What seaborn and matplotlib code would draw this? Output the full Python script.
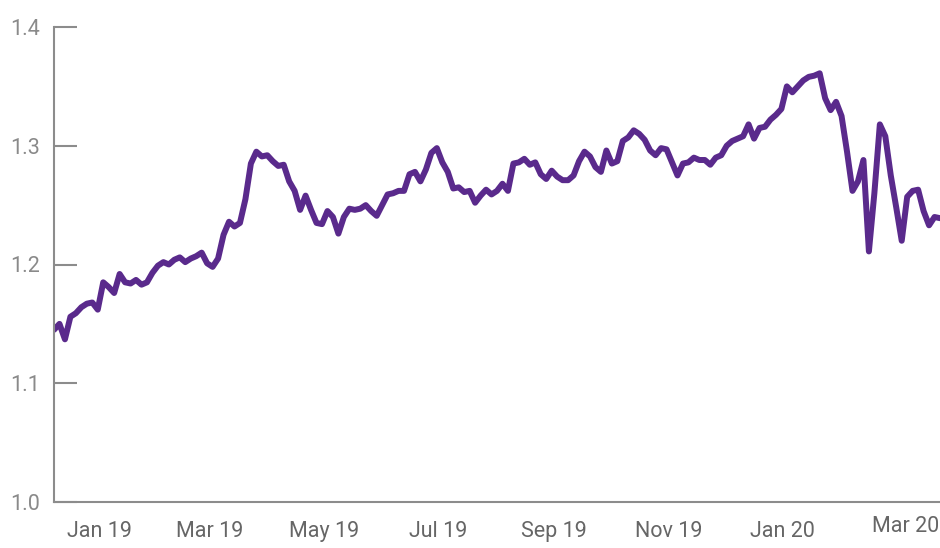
import matplotlib
matplotlib.use("Agg")
import matplotlib.pyplot as plt
from matplotlib.transforms import ScaledTranslation
import pandas as pd
import seaborn as sns

# ---- data ----
start_date = "2018-12-08"
end_date = "2020-03-25"
values = [
    1.145, 1.150, 1.137, 1.156, 1.159, 1.164, 1.167, 1.168, 1.162, 1.185,
    1.181, 1.176, 1.192, 1.185, 1.184, 1.187, 1.183, 1.185, 1.193, 1.199,
    1.202, 1.200, 1.204, 1.206, 1.202, 1.205, 1.207, 1.210, 1.201, 1.198,
    1.205, 1.225, 1.236, 1.232, 1.235, 1.255, 1.285, 1.295, 1.291, 1.292,
    1.287, 1.283, 1.284, 1.270, 1.262, 1.246, 1.258, 1.246, 1.235, 1.234,
    1.245, 1.240, 1.226, 1.240, 1.247, 1.246, 1.247, 1.250, 1.245, 1.241,
    1.250, 1.259, 1.260, 1.262, 1.262, 1.276, 1.278, 1.270, 1.280, 1.294,
    1.298, 1.286, 1.278, 1.264, 1.265, 1.261, 1.262, 1.252, 1.258, 1.263,
    1.259, 1.262, 1.268, 1.262, 1.285, 1.286, 1.289, 1.284, 1.286, 1.276,
    1.272, 1.279, 1.274, 1.271, 1.271, 1.275, 1.287, 1.295, 1.291, 1.282,
    1.278, 1.296, 1.285, 1.287, 1.304, 1.307, 1.313, 1.310, 1.305, 1.296,
    1.292, 1.298, 1.297, 1.286, 1.275, 1.285, 1.286, 1.290, 1.288, 1.288,
    1.284, 1.290, 1.292, 1.300, 1.304, 1.306, 1.308, 1.318, 1.306, 1.315,
    1.316, 1.322, 1.326, 1.331, 1.350, 1.345, 1.350, 1.355, 1.358, 1.359,
    1.361, 1.340, 1.330, 1.337, 1.325, 1.295, 1.262, 1.270, 1.288, 1.211,
    1.260, 1.318, 1.308, 1.275, 1.248, 1.220, 1.257, 1.262, 1.263, 1.245,
    1.233, 1.240, 1.239,
]
tick_dates = ["2019-01-01", "2019-03-01", "2019-05-01", "2019-07-01",
              "2019-09-01", "2019-11-01", "2020-01-01", "2020-03-01"]
tick_labels = ["Jan 19", "Mar 19", "May 19", "Jul 19",
               "Sep 19", "Nov 19", "Jan 20", "Mar 20"]
y_ticks = [1.0, 1.1, 1.2, 1.3, 1.4]
y_tick_labels = ["1.0", "1.1", "1.2", "1.3", "1.4"]

dates = pd.date_range(start_date, end_date, periods=len(values))
df = pd.DataFrame({"date": dates, "value": values})

# ---- style ----
sns.set_style("white")
plt.rcParams["font.family"] = ["Roboto", "DejaVu Sans"]

LINE = "#5a2a8c"
AXIS = "#8c8c8c"
XTEXT = "#666666"
YTEXT = "#8a8a8a"

fig = plt.figure(figsize=(9.4, 5.48), dpi=100)
ax = fig.add_axes([54 / 940, 46 / 548, 886 / 940, 475 / 548])

sns.lineplot(data=df, x="date", y="value", ax=ax, color=LINE,
             linewidth=4.3, solid_joinstyle="round", solid_capstyle="round")

ax.set_xlim(dates[0], dates[-1])
ax.set_ylim(1.0, 1.4)
ax.set_yticks(y_ticks)
ax.set_yticklabels(y_tick_labels)
ax.set_xticks(pd.to_datetime(tick_dates))
ax.set_xticklabels(tick_labels)
ax.set_xlabel("")
ax.set_ylabel("")

for s in ["top", "right"]:
    ax.spines[s].set_visible(False)
for s in ["left", "bottom"]:
    ax.spines[s].set_color(AXIS)
    ax.spines[s].set_linewidth(1.5)

ax.tick_params(axis="y", left=True, direction="in", length=16.5, width=1.5,
               color=AXIS, pad=10, labelsize=15.5, labelcolor=YTEXT)
ax.tick_params(axis="x", bottom=False, length=0, pad=14, labelsize=15.5,
               labelcolor=XTEXT)

# the last month label sits a little to the right and higher in the original
lbl = ax.get_xticklabels()[-1]
lbl.set_transform(lbl.get_transform() +
                  ScaledTranslation(11 / 100, 5 / 100, fig.dpi_scale_trans))

fig.savefig("out.png", dpi=100)
